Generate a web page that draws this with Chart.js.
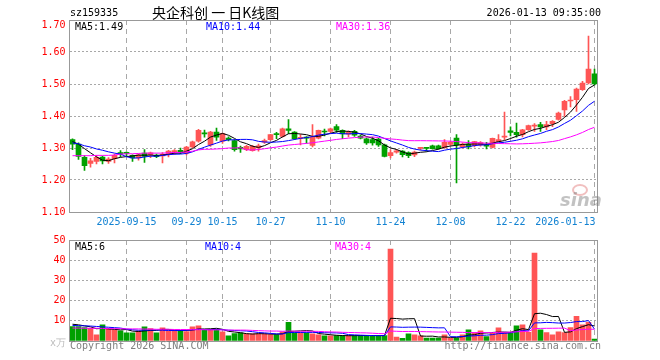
<!DOCTYPE html>
<html>
<head>
<meta charset="utf-8">
<script src="https://cdn.jsdelivr.net/npm/chart.js@4.4.1/dist/chart.umd.min.js"></script>
<style>
body{margin:0;background:#fff}
#wrap{position:relative;width:660px;height:360px}
#wrap canvas{position:absolute;left:0;top:0}
</style>
</head>
<body>
<div id="wrap"><canvas id="kline" width="660" height="360"></canvas><canvas id="vol" width="660" height="360"></canvas></div>
<script>
// trading days 2025-09-02 .. 2026-01-13
const dates=['09-02','09-03','09-04','09-05','09-08','09-09','09-10','09-11','09-12','09-15','09-16','09-17','09-18','09-19','09-22','09-23','09-24','09-25','09-26','09-29','09-30',
'10-09','10-10','10-13','10-14','10-15','10-16','10-17','10-20','10-21','10-22','10-23','10-24','10-27','10-28','10-29','10-30','10-31',
'11-03','11-04','11-05','11-06','11-07','11-10','11-11','11-12','11-13','11-14','11-17','11-18','11-19','11-20','11-21','11-24','11-25','11-26','11-27','11-28',
'12-01','12-02','12-03','12-04','12-05','12-08','12-09','12-10','12-11','12-12','12-15','12-16','12-17','12-18','12-19','12-22','12-23','12-24','12-25','12-26','12-29','12-30','12-31',
'01-05','01-06','01-07','01-08','01-09','01-12','01-13']
const opens=[1.326,1.312,1.271,1.252,1.258,1.272,1.258,1.267,1.286,1.286,1.277,1.269,1.284,1.279,1.278,1.275,1.279,1.284,1.293,1.284,1.303,
1.321,1.346,1.310,1.350,1.321,1.331,1.323,1.302,1.295,1.292,1.300,1.318,1.326,1.343,1.336,1.360,1.350,
1.330,1.332,1.308,1.331,1.352,1.352,1.367,1.355,1.343,1.352,1.337,1.329,1.326,1.328,1.310,1.276,1.287,1.290,1.286,1.278,
1.299,1.300,1.307,1.307,1.301,1.311,1.331,1.303,1.312,1.307,1.310,1.308,1.302,1.320,1.334,1.354,1.349,1.342,1.357,1.368,1.373,1.366,1.376,
1.389,1.419,1.447,1.451,1.482,1.503,1.532]
const highs=[1.329,1.316,1.276,1.268,1.277,1.275,1.270,1.281,1.292,1.288,1.279,1.281,1.295,1.287,1.281,1.286,1.293,1.295,1.300,1.305,1.322,
1.358,1.356,1.352,1.362,1.347,1.335,1.326,1.306,1.308,1.308,1.312,1.328,1.343,1.349,1.362,1.389,1.351,
1.342,1.336,1.373,1.356,1.359,1.362,1.373,1.357,1.354,1.355,1.340,1.332,1.334,1.330,1.312,1.294,1.296,1.292,1.288,1.290,
1.302,1.302,1.309,1.309,1.326,1.322,1.342,1.316,1.323,1.321,1.320,1.318,1.331,1.342,1.412,1.366,1.378,1.358,1.372,1.376,1.380,1.383,1.386,
1.412,1.449,1.461,1.487,1.508,1.650,1.547]
const lows=[1.295,1.264,1.230,1.240,1.250,1.250,1.252,1.253,1.272,1.276,1.258,1.262,1.255,1.270,1.270,1.253,1.272,1.280,1.282,1.278,1.300,
1.318,1.334,1.305,1.324,1.314,1.322,1.290,1.286,1.292,1.290,1.290,1.314,1.324,1.329,1.334,1.345,1.327,
1.310,1.315,1.303,1.328,1.338,1.348,1.349,1.329,1.335,1.336,1.328,1.311,1.309,1.305,1.272,1.269,1.284,1.272,1.270,1.273,
1.294,1.290,1.296,1.296,1.299,1.308,1.191,1.300,1.297,1.303,1.306,1.297,1.300,1.319,1.326,1.338,1.334,1.335,1.355,1.352,1.352,1.357,1.367,
1.387,1.399,1.428,1.414,1.480,1.500,1.497]
const closes=[1.312,1.274,1.245,1.260,1.271,1.260,1.265,1.277,1.281,1.283,1.269,1.279,1.274,1.285,1.273,1.280,1.290,1.292,1.285,1.303,1.319,
1.355,1.344,1.350,1.334,1.345,1.326,1.295,1.297,1.305,1.305,1.307,1.323,1.342,1.342,1.360,1.355,1.329,
1.333,1.331,1.334,1.355,1.350,1.360,1.356,1.344,1.349,1.340,1.331,1.316,1.316,1.310,1.274,1.286,1.291,1.279,1.276,1.287,
1.300,1.299,1.298,1.298,1.318,1.318,1.310,1.312,1.303,1.320,1.317,1.306,1.330,1.326,1.337,1.349,1.342,1.357,1.370,1.372,1.366,1.373,1.383,
1.409,1.446,1.450,1.484,1.503,1.547,1.500]
// volume, 万
const volumes=[7.2,7.2,6.7,6.3,3.0,8.0,6.0,5.5,5.0,4.0,4.0,5.0,7.0,6.2,4.0,6.5,5.0,5.0,5.3,4.7,7.0,
7.5,5.3,5.8,5.8,4.5,2.5,3.7,4.0,3.5,3.5,3.5,3.5,3.2,3.2,4.5,9.3,4.0,
4.0,4.0,3.5,3.0,2.5,2.5,2.7,2.7,2.7,2.7,2.7,2.7,2.7,2.7,2.7,45.5,2.0,1.3,3.5,3.0,
2.5,1.5,1.5,1.5,3.0,1.5,1.5,3.0,5.5,4.2,5.0,2.2,4.2,6.5,4.2,4.2,7.5,8.0,4.3,43.5,5.5,4.2,3.0,
4.5,4.2,6.7,12.2,8.0,9.3,1.0]
// averages before the first full window
const ma5Head=[1.320,1.312,1.298,1.285]
const ma10Head=[1.316,1.313,1.307,1.303,1.297,1.293,1.288,1.284,1.281]
const ma30Head=[1.276,1.276,1.276,1.276,1.277,1.277,1.277,1.278,1.281,1.282,1.282,1.283,1.284,1.284,1.284,1.284,1.285,1.286,1.286,1.288,1.290,1.294,1.296,1.296,1.297,1.298,1.300,1.300,1.301]
const volMa5Head=[8.3,8.0,7.5,7.0]
const volMa10Head=[7.7,7.6,7.5,7.4,7.2,7.0,6.8,6.6,6.4]
const volMa30Head=[6.4,6.4,6.3,6.3,6.3,6.2,6.2,6.1,6.1,6.0,6.0,6.0,5.9,5.9,5.8,5.8,5.8,5.7,5.7,5.7,5.6,5.6,5.6,5.5,5.5,5.5,5.4,5.4,5.4]

const tickIdx=[9,19,25,33,43,53,63,73,87]
const tickLabels=['2025-09-15','09-29','10-15','10-27','11-10','11-24','12-08','12-22','2026-01-13']
const priceLabels=['MA5:1.49','MA10:1.44','MA30:1.36']
const volLabels=['MA5:6','MA10:4','MA30:4']

const RED='#ff5555',GREEN='#00a000'
const MONO='10px "DejaVu Sans Mono"'
const GRID='#a8a8a8'

function movingAvg(vals,n,head){
  return vals.map((v,i)=>{
    if(i<n-1) return head[i]
    let s=0
    for(let j=i-n+1;j<=i;j++) s+=vals[j]
    return s/n
  })
}
const candleColors=closes.map((c,i)=>c>=opens[i]?RED:GREEN)

function xAxis(){
  return {type:'category',offset:true,
    ticks:{display:false,autoSkip:false},
    grid:{offset:false,drawTicks:false,lineWidth:1,color:c=>tickIdx.includes(c.index)?GRID:'rgba(0,0,0,0)'},
    border:{display:false,dash:[5,4]},
    afterFit:s=>{s.height=0}}
}
function lineSet(data,color){
  return {type:'line',data:data,borderColor:color,borderWidth:1,pointRadius:0,tension:0,fill:false,order:0}
}
const framePlugin={id:'frame',afterDraw(chart){
  const a=chart.chartArea,ctx=chart.ctx
  ctx.save()
  ctx.strokeStyle='#999'
  ctx.lineWidth=1
  ctx.strokeRect(a.left,a.top+0.5,a.right-a.left,a.bottom-a.top)
  ctx.restore()
}}
function text(ctx,s,x,y,color,align,font){
  ctx.font=font||MONO
  ctx.fillStyle=color
  ctx.textAlign=align||'left'
  ctx.textBaseline='middle'
  ctx.fillText(s,x,y)
}

const klineText={id:'klineText',afterDraw(chart){
  const ctx=chart.ctx,xs=chart.scales.x
  ctx.save()
  text(ctx,'sz159335',70,13,'#000')
  text(ctx,'央企科创 一 日K线图',152,13,'#000','left','14px "Noto Sans CJK SC"')
  text(ctx,'2026-01-13 09:35:00',601,13,'#000','right')
  // top price label sits just inside the frame
  text(ctx,'1.70',65.5,25,'#ff0000','right')
  text(ctx,priceLabels[0],75,27,'#000')
  text(ctx,priceLabels[1],206,27,'#0000ff')
  text(ctx,priceLabels[2],336,27,'#ff00ff')
  tickIdx.forEach((k,i)=>{
    const x=xs.getPixelForValue(k)
    const last=i==tickIdx.length-1
    text(ctx,tickLabels[i],last?x+1:x,222,'#1282d2',last?'right':'center')
  })
  // sina watermark
  ctx.globalAlpha=0.45
  ctx.beginPath()
  ctx.ellipse(580,190,7,5,0,0,Math.PI*2)
  ctx.strokeStyle='#e07070'
  ctx.lineWidth=2
  ctx.stroke()
  text(ctx,'sina',581,201,'#777','center','italic bold 18px "DejaVu Sans"')
  ctx.restore()
}}

new Chart(document.getElementById('kline'),{
  type:'bar',
  data:{labels:dates,datasets:[
    {data:lows.map((l,i)=>[l,highs[i]]),backgroundColor:candleColors,barThickness:1,grouped:false,order:2},
    {data:opens.map((o,i)=>[o,closes[i]]),backgroundColor:candleColors,barThickness:5,grouped:false,minBarLength:1,order:1},
    lineSet(movingAvg(closes,30,ma30Head),'#ff00ff'),
    lineSet(movingAvg(closes,10,ma10Head),'#0000ff'),
    lineSet(movingAvg(closes,5,ma5Head),'#000000')
  ]},
  options:{
    responsive:false,animation:false,devicePixelRatio:1,
    layout:{padding:{top:20,bottom:148,left:0,right:62.5}},
    plugins:{legend:{display:false},tooltip:{enabled:false}},
    scales:{
      x:xAxis(),
      y:{min:1.10,max:1.70,
        ticks:{stepSize:0.1,color:'#ff0000',font:{family:'DejaVu Sans Mono',size:10},padding:4,callback:v=>v>1.69?'':v.toFixed(2)},
        grid:{drawTicks:false,color:GRID,lineWidth:1},
        border:{display:false,dash:[2,2]},
        afterFit:s=>{s.width=69.5}}
    }
  },
  plugins:[framePlugin,klineText]
})

const volText={id:'volText',afterDraw(chart){
  const ctx=chart.ctx
  ctx.save()
  text(ctx,volLabels[0],75,247,'#000')
  text(ctx,volLabels[1],205,247,'#0000ff')
  text(ctx,volLabels[2],335,247,'#ff00ff')
  text(ctx,'Copyright 2026 SINA.COM',70,346,'#808080')
  text(ctx,'http://finance.sina.com.cn',601,346,'#808080','right')
  text(ctx,'x万',66,343,'#bbb','right')
  ctx.restore()
}}

new Chart(document.getElementById('vol'),{
  type:'bar',
  data:{labels:dates,datasets:[
    {data:volumes,backgroundColor:candleColors,barThickness:5,order:1},
    lineSet(movingAvg(volumes,30,volMa30Head),'#ff00ff'),
    lineSet(movingAvg(volumes,10,volMa10Head),'#0000ff'),
    lineSet(movingAvg(volumes,5,volMa5Head),'#000000')
  ]},
  options:{
    responsive:false,animation:false,devicePixelRatio:1,
    layout:{padding:{top:240,bottom:19,left:0,right:62.5}},
    plugins:{legend:{display:false},tooltip:{enabled:false}},
    scales:{
      x:xAxis(),
      y:{min:0,max:50,
        ticks:{stepSize:10,color:'#ff0000',font:{family:'DejaVu Sans Mono',size:10},padding:4,callback:v=>v>0?String(v):''},
        grid:{drawTicks:false,color:GRID,lineWidth:1},
        border:{display:false,dash:[2,2]},
        afterFit:s=>{s.width=69.5}}
    }
  },
  plugins:[framePlugin,volText]
})
</script>
</body>
</html>
